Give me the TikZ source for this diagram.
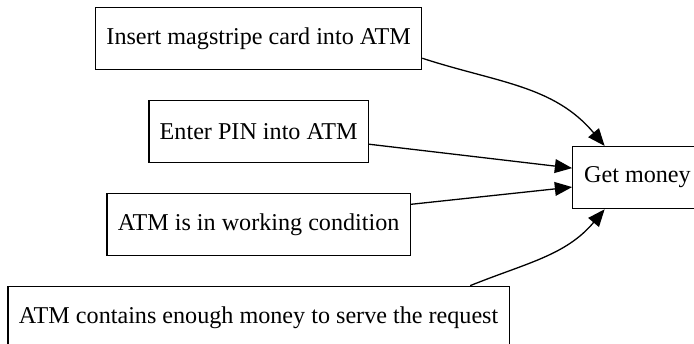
\documentclass[tikz,border=0pt]{standalone}
\usepackage{fontspec}
\setmainfont{Liberation Serif}
\usetikzlibrary{arrows.meta, positioning}

\begin{document}
\begin{tikzpicture}[
  node distance = 17.2pt,
  box/.style    = {draw=black, line width=0.75pt, rectangle,
                   minimum height=36pt, inner xsep=6.3pt,
                   font=\fontsize{14pt}{16pt}\selectfont},
  arr/.style    = {-{Triangle[length=10pt, width=8pt]}, black, line width=0.75pt},
]
% page frame (right and bottom boxes run past it)
\path[use as bounding box] (0,0) rectangle (402.5pt,-199.5pt);
\clip (0,0) rectangle (402.5pt,-199.5pt);

\node[box] (card) at (150pt,-22.2pt) {Insert magstripe card into ATM};
\node[box, below=of card] (pin)  {Enter PIN into ATM};
\node[box, below=of pin]  (cond) {ATM is in working condition};
\node[box, below=of cond] (cash) {ATM contains enough money to serve the request};
\node[box, anchor=west, minimum width=75pt] (money) at (331.8pt,-103pt) {Get money};

\draw[arr] ([yshift=-11.6pt]card.east) to[out=-18, in=130] ([xshift=-19pt]money.north);
\draw[arr] ([yshift=-7.5pt]pin.east)   -- ([yshift=5.5pt]money.west);
\draw[arr] ([yshift=11.6pt]cond.east)  -- ([yshift=-5.5pt]money.west);
\draw[arr] ([xshift=122.7pt]cash.north) to[out=22, in=-130] ([xshift=-19pt]money.south);
\end{tikzpicture}
\end{document}
